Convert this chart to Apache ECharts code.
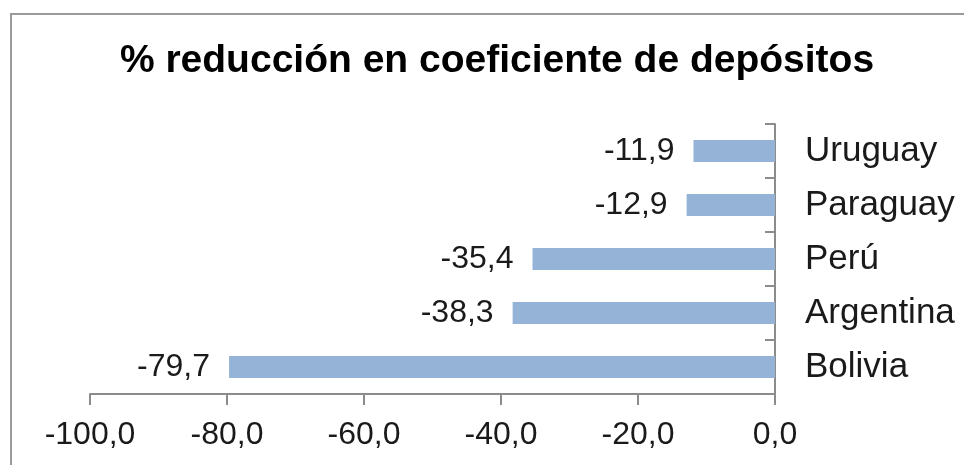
<!DOCTYPE html>
<html>
<head>
<meta charset="utf-8">
<script src="https://cdn.jsdelivr.net/npm/echarts@6/dist/echarts.min.js"></script>
<style>
  html, body { margin: 0; padding: 0; background: #fff; }
  #chart { width: 964px; height: 465px; }
</style>
</head>
<body>
<div id="chart"></div>
<script>
// chart data
const titleText = '% reducción en coeficiente de depósitos';
const countries = ['Uruguay', 'Paraguay', 'Perú', 'Argentina', 'Bolivia'];
const reductions = [-11.9, -12.9, -35.4, -38.3, -79.7];
const axisMin = -100;
const axisMax = 0;
const axisStep = 20;

const fmt = (v) => v.toFixed(1).replace('.', ',');
const font = '"Liberation Sans", Arial, sans-serif';
const axisGray = '#8c8c8c';

const chart = echarts.init(document.getElementById('chart'));

chart.setOption({
    animation: false,
    backgroundColor: '#fff',
    title: {
        text: titleText,
        left: 492,
        textAlign: 'center',
        top: 37,
        textStyle: { fontFamily: font, fontWeight: 'bold', fontSize: 39, color: '#000' }
    },
    graphic: [{
        type: 'rect',
        shape: { x: 11, y: 14, width: 1000, height: 500 },
        style: { fill: 'none', stroke: '#9a9a9a', lineWidth: 2 },
        silent: true
    }],
    grid: { left: 90, right: 189, top: 124, bottom: 71 },
    xAxis: {
        type: 'value',
        min: axisMin,
        max: axisMax,
        interval: axisStep,
        axisLine: { show: true, lineStyle: { color: axisGray, width: 2 } },
        axisTick: { show: true, length: 11, lineStyle: { color: axisGray, width: 2 } },
        splitLine: { show: false },
        axisLabel: {
            formatter: fmt,
            margin: 25,
            fontFamily: font,
            fontSize: 32,
            color: '#1a1a1a'
        }
    },
    yAxis: {
        type: 'category',
        data: countries,
        inverse: true,
        position: 'right',
        axisLine: { show: true, lineStyle: { color: axisGray, width: 2 } },
        axisTick: { show: true, inside: true, length: 10, lineStyle: { color: axisGray, width: 2 } },
        axisLabel: {
            margin: 30,
            fontFamily: font,
            fontSize: 35,
            color: '#1a1a1a'
        }
    },
    series: [{
        type: 'bar',
        data: reductions,
        barCategoryGap: '59%',
        itemStyle: { color: '#95b3d7' },
        label: {
            show: true,
            position: 'left',
            distance: 19,
            formatter: (p) => fmt(p.value),
            fontFamily: font,
            fontSize: 32,
            color: '#1a1a1a'
        }
    }]
});
</script>
</body>
</html>
